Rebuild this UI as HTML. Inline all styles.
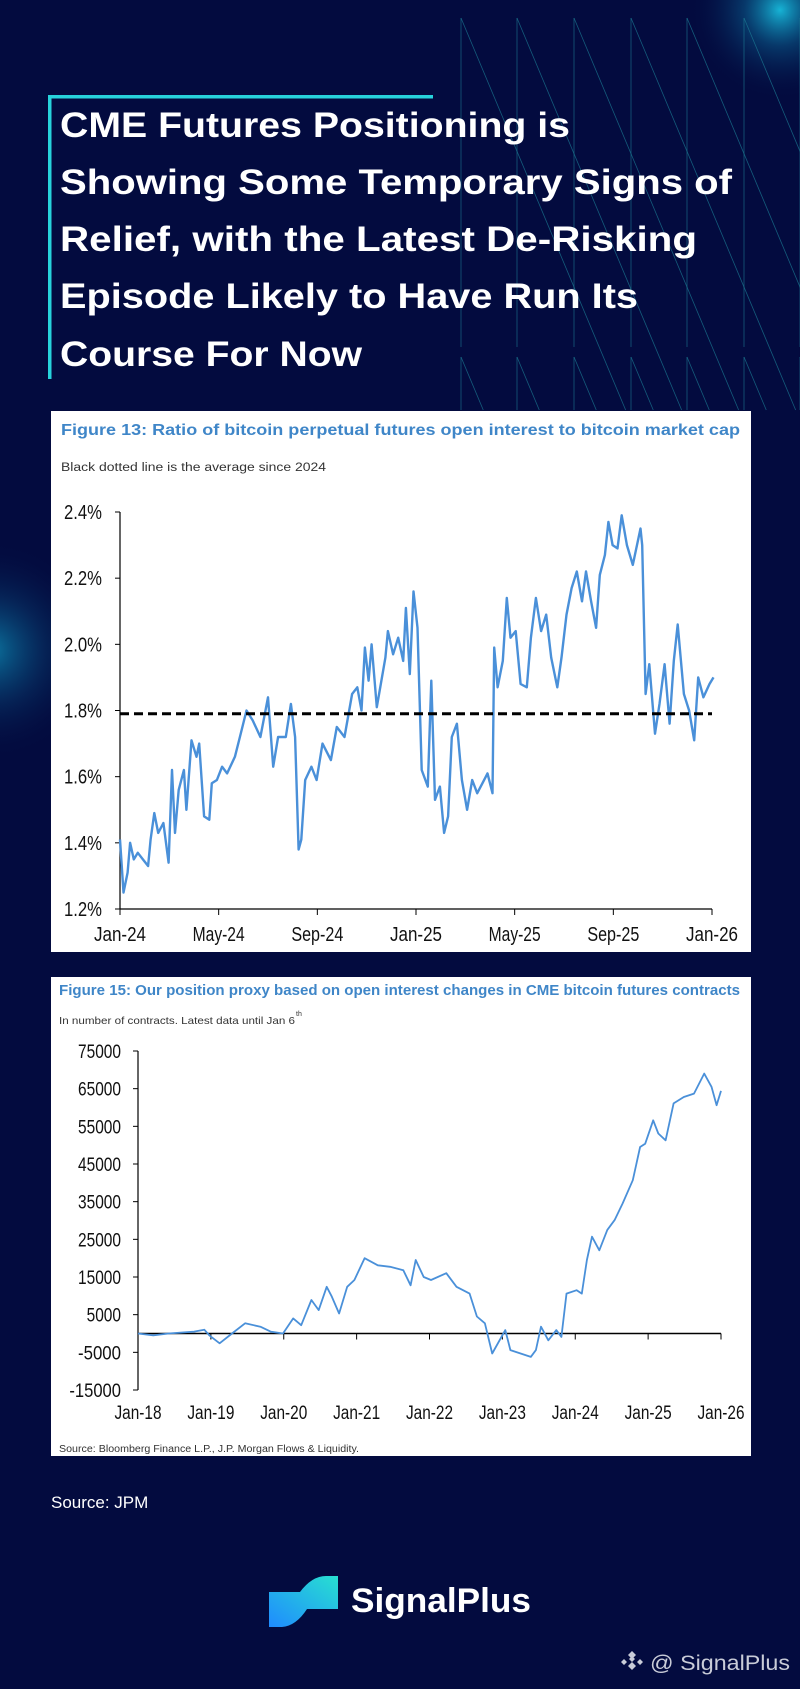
<!DOCTYPE html>
<html><head><meta charset="utf-8">
<style>
html,body{margin:0;padding:0;background:#030b3f;}
svg{display:block;font-family:"Liberation Sans",Arial,sans-serif;}
</style></head>
<body>
<svg id="page" width="800" height="1689" viewBox="0 0 800 1689" xmlns="http://www.w3.org/2000/svg">
<defs>
<radialGradient id="glowTR" cx="0.5" cy="0.5" r="0.5"><stop offset="0" stop-color="#19c6e6" stop-opacity="0.9"/><stop offset="0.4" stop-color="#0c6f9e" stop-opacity="0.45"/><stop offset="1" stop-color="#030b3f" stop-opacity="0"/></radialGradient>
<radialGradient id="glowL" cx="0.5" cy="0.5" r="0.5"><stop offset="0" stop-color="#0d8fb8" stop-opacity="0.8"/><stop offset="0.5" stop-color="#0a4f80" stop-opacity="0.35"/><stop offset="1" stop-color="#030b3f" stop-opacity="0"/></radialGradient>
<linearGradient id="logoG" x1="0" y1="1" x2="1" y2="0"><stop offset="0" stop-color="#1f8bff"/><stop offset="1" stop-color="#28e0d0"/></linearGradient>
</defs>
<rect x="0" y="0" width="800" height="1689" fill="#030b3f"/>
<circle cx="780" cy="10" r="90" fill="url(#glowTR)"/>
<circle cx="-10" cy="650" r="110" fill="url(#glowL)"/>
<g id="deco" stroke="#1c7f96" stroke-width="0.8" stroke-opacity="0.7"></g>

<rect x="48" y="95" width="385" height="3.5" fill="#27d3dc"/>
<rect x="48" y="95" width="3.5" height="284" fill="#27d3dc"/>
<g fill="#ffffff" font-weight="bold" font-size="35">
<text x="60" y="137" textLength="510" lengthAdjust="spacingAndGlyphs">CME Futures Positioning is</text>
<text x="60" y="194" textLength="672" lengthAdjust="spacingAndGlyphs">Showing Some Temporary Signs of</text>
<text x="60" y="251" textLength="637" lengthAdjust="spacingAndGlyphs">Relief, with the Latest De-Risking</text>
<text x="60" y="308" textLength="578" lengthAdjust="spacingAndGlyphs">Episode Likely to Have Run Its</text>
<text x="60" y="366" textLength="302" lengthAdjust="spacingAndGlyphs">Course For Now</text>
</g>

<!-- Chart 1 -->
<g id="chart1">
<rect x="51" y="411" width="700" height="541" fill="#ffffff"/>
<text x="61" y="435" font-size="15.5" font-weight="bold" fill="#3f86c8" textLength="679" lengthAdjust="spacingAndGlyphs">Figure 13: Ratio of bitcoin perpetual futures open interest to bitcoin market cap</text>
<text x="61" y="471" font-size="11.5" fill="#333" textLength="265" lengthAdjust="spacingAndGlyphs">Black dotted line is the average since 2024</text>
<g id="c1axes"></g>
<g id="c1marks"></g>
</g>

<!-- Chart 2 -->
<g id="chart2">
<rect x="51" y="977" width="700" height="479" fill="#ffffff"/>
<text x="59" y="995" font-size="14.5" font-weight="bold" fill="#3f86c8" textLength="681" lengthAdjust="spacingAndGlyphs">Figure 15: Our position proxy based on open interest changes in CME bitcoin futures contracts</text>
<text x="59" y="1024" font-size="10.5" fill="#333" textLength="236" lengthAdjust="spacingAndGlyphs">In number of contracts. Latest data until Jan 6</text>
<text x="296" y="1016" font-size="7" fill="#333">th</text>
<text x="59" y="1452" font-size="10" fill="#333" textLength="300" lengthAdjust="spacingAndGlyphs">Source: Bloomberg Finance L.P., J.P. Morgan Flows &amp; Liquidity.</text>
<g id="c2axes"></g>
<g id="c2marks"></g>
</g>

<text x="51" y="1508" font-size="17" fill="#ffffff">Source: JPM</text>

<g>
<path d="M269 1592 L300 1592 Q312 1576 326 1576 L338 1576 L338 1609 L307 1609 Q296 1626 282 1627 L269 1627 Z" fill="url(#logoG)"/>
<text x="351" y="1612" font-size="34" font-weight="bold" fill="#ffffff" textLength="180" lengthAdjust="spacingAndGlyphs">SignalPlus</text>
</g>
<g fill="#c9ccd8">
<path d="M632 1651 l4 4 -4 4 -4 -4z M624 1659 l3 3 -3 3 -3 -3z M640 1659 l3 3 -3 3 -3 -3z M632 1662 l4 4 -4 4 -4 -4z M632 1656 l3 3 -3 3 -3 -3z"/>
<text x="650" y="1670" font-size="21" textLength="140" lengthAdjust="spacingAndGlyphs">@ SignalPlus</text>
</g>
</svg>

<script>
// ---------- Chart 1 data ----------
const c1Months = [0,.14,.31,.41,.56,.72,.93,1.14,1.24,1.39,1.55,1.76,1.97,2.11,2.23,2.38,2.59,2.69,2.9,3.1,3.21,3.41,3.62,3.72,3.93,4.14,4.34,4.66,4.86,5.13,5.38,5.69,6.0,6.21,6.41,6.72,6.93,7.1,7.24,7.35,7.51,7.76,7.97,8.21,8.55,8.79,9.1,9.41,9.62,9.79,9.93,10.08,10.2,10.41,10.76,10.86,11.07,11.28,11.48,11.59,11.75,11.9,12.06,12.23,12.48,12.62,12.77,12.97,13.14,13.3,13.45,13.66,13.86,14.07,14.28,14.48,14.69,14.9,15.1,15.17,15.31,15.52,15.68,15.83,16.04,16.24,16.49,16.66,16.86,17.07,17.28,17.48,17.73,17.9,18.1,18.31,18.52,18.73,18.89,19.1,19.3,19.45,19.66,19.8,19.97,20.17,20.34,20.55,20.79,21.1,21.17,21.31,21.46,21.69,21.87,22.08,22.28,22.45,22.61,22.86,23.07,23.28,23.44,23.65,23.9,24.06];
const c1Values = [1.41,1.25,1.31,1.40,1.35,1.37,1.35,1.33,1.41,1.49,1.43,1.46,1.34,1.62,1.43,1.56,1.62,1.50,1.71,1.66,1.70,1.48,1.47,1.58,1.59,1.63,1.61,1.66,1.72,1.80,1.77,1.72,1.84,1.63,1.72,1.72,1.82,1.72,1.38,1.41,1.59,1.63,1.59,1.70,1.65,1.75,1.72,1.85,1.87,1.80,1.99,1.89,2.00,1.81,1.96,2.04,1.97,2.02,1.95,2.11,1.91,2.16,2.05,1.62,1.57,1.89,1.53,1.57,1.43,1.48,1.72,1.76,1.59,1.50,1.59,1.55,1.58,1.61,1.55,1.99,1.87,1.95,2.14,2.02,2.04,1.88,1.87,2.02,2.14,2.04,2.09,1.96,1.87,1.96,2.09,2.17,2.22,2.13,2.22,2.13,2.05,2.21,2.27,2.37,2.30,2.29,2.39,2.30,2.24,2.35,2.30,1.85,1.94,1.73,1.82,1.94,1.76,1.95,2.06,1.85,1.80,1.71,1.90,1.84,1.88,1.90];
const c1Average = 1.79;
const c1YTicks = [1.2,1.4,1.6,1.8,2.0,2.2,2.4];
const c1XTickMonths = [0,4,8,12,16,20,24];
const c1XTickLabels = ["Jan-24","May-24","Sep-24","Jan-25","May-25","Sep-25","Jan-26"];

// ---------- Chart 2 data ----------
const c2Years = [0,.21,.42,.77,.91,.98,1.12,1.29,1.47,1.68,1.82,1.99,2.13,2.24,2.38,2.48,2.59,2.66,2.76,2.87,2.97,3.11,3.29,3.46,3.64,3.74,3.81,3.92,4.02,4.23,4.37,4.55,4.65,4.76,4.86,5.04,5.11,5.25,5.39,5.46,5.53,5.63,5.74,5.81,5.88,6.02,6.09,6.16,6.23,6.33,6.44,6.54,6.65,6.79,6.89,6.96,7.07,7.14,7.24,7.35,7.49,7.63,7.77,7.87,7.94,8.0];
const c2Values = [0,-500,0,500,1000,-500,-2600,0,2700,1800,500,0,4000,2200,8900,6200,12400,9800,5300,12400,14200,20000,18100,17700,16800,12800,19500,15000,14200,16000,12400,10600,4500,2700,-5300,900,-4400,-5300,-6200,-4400,1800,-1800,900,-900,10600,11500,10600,19500,25700,22100,27500,30100,34500,40700,49500,50400,56600,53100,51300,61100,62800,63700,69000,65500,60600,64400];
const c2YTicks = [-15000,-5000,5000,15000,25000,35000,45000,55000,65000,75000];
const c2XTickYears = [0,1,2,3,4,5,6,7,8];
const c2XTickLabels = ["Jan-18","Jan-19","Jan-20","Jan-21","Jan-22","Jan-23","Jan-24","Jan-25","Jan-26"];

const NS = "http://www.w3.org/2000/svg";
function mk(tag, attrs, parent){const e=document.createElementNS(NS,tag);for(const k in attrs)e.setAttribute(k,attrs[k]);parent.appendChild(e);return e;}

// ---------- Chart 1 ----------
const x1 = m => 120 + (m/24)*(712-120);
const y1 = v => 909 - (v-1.2)/(2.4-1.2)*(909-512);
const ax1 = document.getElementById('c1axes');
const mk1 = document.getElementById('c1marks');
let yAxis1 = mk('line',{x1:120,y1:512,x2:120,y2:909,stroke:'#000','stroke-width':1.2},ax1);


let xAxis1 = mk('line',{x1:120,y1:909,x2:712,y2:909,stroke:'#000','stroke-width':1.2},ax1);


c1YTicks.forEach(v=>{
  const t = mk('line',{x1:115,y1:y1(v),x2:120,y2:y1(v),stroke:'#000','stroke-width':1},ax1);
  
  
  const l = mk('text',{x:102,y:y1(v)+7,'font-size':20,'text-anchor':'end',fill:'#111',textLength:38,lengthAdjust:'spacingAndGlyphs'},ax1);
  l.textContent = v.toFixed(1)+'%';
  
  
});
c1XTickMonths.forEach((m,i)=>{
  const t = mk('line',{x1:x1(m),y1:909,x2:x1(m),y2:915,stroke:'#000','stroke-width':1},ax1);
  
  
  const l = mk('text',{x:x1(m),y:941,'font-size':20,'text-anchor':'middle',fill:'#111',textLength:52,lengthAdjust:'spacingAndGlyphs'},ax1);
  l.textContent = c1XTickLabels[i];
  
  
});
let d1 = c1Months.map((m,i)=>(i?'L':'M')+x1(m).toFixed(1)+' '+y1(c1Values[i]).toFixed(1)).join(' ');
const line1 = mk('path',{d:d1,fill:'none',stroke:'#4a90d9','stroke-width':2.4,'stroke-linejoin':'round'},mk1);


const avg = mk('line',{x1:120,y1:y1(c1Average),x2:x1(24),y2:y1(c1Average),stroke:'#000','stroke-width':3,'stroke-dasharray':'9 5'},mk1);



// ---------- Chart 2 ----------
const x2 = t => 138 + (t/8)*(721-138);
const y2 = v => 1390 - (v+15000)/90000*(1390-1051);
const ax2 = document.getElementById('c2axes');
const mk2 = document.getElementById('c2marks');
let yAxis2 = mk('line',{x1:138,y1:1051,x2:138,y2:1390,stroke:'#000','stroke-width':1.2},ax2);


let xAxis2 = mk('line',{x1:138,y1:y2(0),x2:721,y2:y2(0),stroke:'#000','stroke-width':1.5},ax2);


c2YTicks.forEach(v=>{
  const t = mk('line',{x1:133,y1:y2(v),x2:138,y2:y2(v),stroke:'#000','stroke-width':1},ax2);
  
  
  const l = mk('text',{x:121,y:y2(v)+7,'font-size':19,'text-anchor':'end',fill:'#111',textLength:(String(v).length*8.6),lengthAdjust:'spacingAndGlyphs'},ax2);
  l.textContent = String(v);
  
  
});
c2XTickYears.forEach((t,i)=>{
  const tk = mk('line',{x1:x2(t),y1:y2(0),x2:x2(t),y2:y2(0)+6,stroke:'#000','stroke-width':1},ax2);
  
  
  const l = mk('text',{x:x2(t),y:1419,'font-size':19,'text-anchor':'middle',fill:'#111',textLength:47,lengthAdjust:'spacingAndGlyphs'},ax2);
  l.textContent = c2XTickLabels[i];
  
  
});
let d2 = c2Years.map((t,i)=>(i?'L':'M')+x2(t).toFixed(1)+' '+y2(c2Values[i]).toFixed(1)).join(' ');
const line2 = mk('path',{d:d2,fill:'none',stroke:'#4a90d9','stroke-width':1.8,'stroke-linejoin':'round'},mk2);



// ---------- decorative lines ----------
const deco = document.getElementById('deco');
[461,517,574,631,687,744,800].forEach(x=>{
  mk('line',{x1:x,y1:18,x2:x,y2:347},deco);
  mk('line',{x1:x,y1:357,x2:x,y2:410},deco);
  mk('line',{x1:x,y1:18,x2:x+0.42*392,y2:410},deco);
  mk('line',{x1:x,y1:357,x2:x+0.42*53,y2:410},deco);
});
</script>
</body></html>
